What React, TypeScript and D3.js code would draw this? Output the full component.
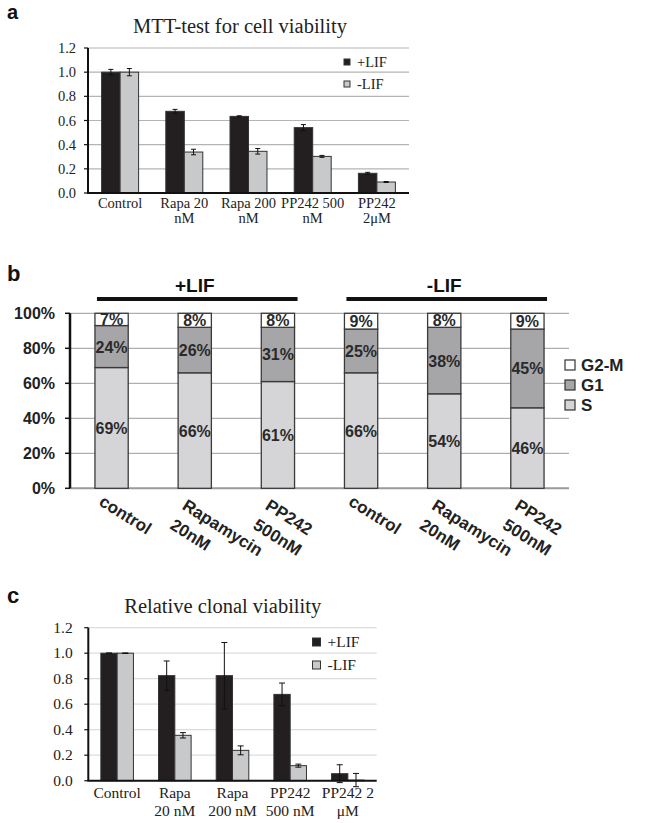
import React from 'react';
import * as d3 from 'd3';

// panel a: MTT-test for cell viability
const mttLabels = ['Control', 'Rapa 20|nM', 'Rapa 200|nM', 'PP242 500|nM', 'PP242|2μM'];
const mttPlus = [1.0, 0.676, 0.634, 0.541, 0.163];
const mttPlusErr = [0.023, 0.016, 0.005, 0.025, 0.008];
const mttMinus = [1.0, 0.339, 0.345, 0.303, 0.091];
const mttMinusErr = [0.03, 0.023, 0.023, 0.008, 0.004];

// panel b: cell cycle distribution (%)
const cycleLabels = ['control', 'Rapamycin|20nM', 'PP242|500nM', 'control', 'Rapamycin|20nM', 'PP242|500nM'];
const cycleGroups = ['+LIF', '-LIF'];
const phaseS = [69, 66, 61, 66, 54, 46];
const phaseG1 = [24, 26, 31, 25, 38, 45];
const phaseG2M = [7, 8, 8, 9, 8, 9];
const pctTicks = [0, 20, 40, 60, 80, 100];

// panel c: relative clonal viability
const clonalLabels = ['Control', 'Rapa|20 nM', 'Rapa|200 nM', 'PP242|500 nM', 'PP242 2|μM'];
const clonalPlus = [1.0, 0.824, 0.824, 0.677, 0.055];
const clonalPlusErr = [0.002, 0.115, 0.26, 0.089, 0.07];
const clonalMinus = [1.0, 0.356, 0.238, 0.118, 0.005];
const clonalMinusErr = [0.002, 0.021, 0.035, 0.012, 0.052];

const viabTicks = [0, 0.2, 0.4, 0.6, 0.8, 1.0, 1.2];
const seriesNames = ['+LIF', '-LIF'];

const SERIF = "'Liberation Serif', 'Times New Roman', serif";
const SANS = "'Liberation Sans', Arial, sans-serif";
const BLACK = '#231f20';
const GREY = '#c8c9cb';

type ViabProps = {
  title: string;
  titleX: number;
  titleY: number;
  labels: string[];
  plus: number[];
  plusErr: number[];
  minus: number[];
  minusErr: number[];
  left: number;
  right: number;
  top: number;
  bottom: number;
  pad: number;
  fs: number;
  tickX: number;
  labelY: number;
  lineGap: number;
  legendX: number;
  legendY: number;
  legendGap: number;
  sq: number;
  grid: string;
  cap: number;
};

const ViabilityPanel = (p: ViabProps) => {
  const x = d3.scaleBand().domain(p.labels).range([p.left, p.right]).paddingInner(p.pad).paddingOuter(p.pad / 2);
  const sub = d3.scaleBand().domain(seriesNames).range([0, x.bandwidth()]);
  const y = d3.scaleLinear().domain([0, 1.2]).range([p.bottom, p.top]);
  const series = [
    { name: '+LIF', vals: p.plus, errs: p.plusErr, fill: BLACK },
    { name: '-LIF', vals: p.minus, errs: p.minusErr, fill: GREY },
  ];

  return (
    <g>
      <text x={p.titleX} y={p.titleY} textAnchor="middle" fontFamily={SERIF} fontSize={20.5} fill="#222">
        {p.title}
      </text>
      {viabTicks.filter((t) => t > 0).map((t) => (
        <line key={t} x1={p.left} x2={p.right} y1={y(t)} y2={y(t)} stroke={p.grid} strokeWidth={1.2} />
      ))}
      {viabTicks.map((t) => (
        <g key={'t' + t}>
          <line x1={p.left - 4} x2={p.left} y1={y(t)} y2={y(t)} stroke="#111" strokeWidth={1.2} />
          <text x={p.tickX} y={y(t) + 5} textAnchor="end" fontFamily={SERIF} fontSize={p.fs} fill="#222">
            {t.toFixed(1)}
          </text>
        </g>
      ))}
      {series.map((s) =>
        p.labels.map((c, i) => {
          const bx = (x(c) as number) + (sub(s.name) as number);
          const cx = bx + sub.bandwidth() / 2;
          const v = s.vals[i];
          const e = s.errs[i];
          return (
            <g key={s.name + c}>
              <rect
                x={bx}
                y={y(v)}
                width={sub.bandwidth()}
                height={y(0) - y(v)}
                fill={s.fill}
                stroke="#333"
                strokeWidth={1}
              />
              <line x1={cx} x2={cx} y1={y(v - e)} y2={y(v + e)} stroke="#111" strokeWidth={1} />
              <line x1={cx - p.cap} x2={cx + p.cap} y1={y(v + e)} y2={y(v + e)} stroke="#111" strokeWidth={1} />
              <line x1={cx - p.cap} x2={cx + p.cap} y1={y(v - e)} y2={y(v - e)} stroke="#111" strokeWidth={1} />
            </g>
          );
        })
      )}
      <line x1={p.left} x2={p.left} y1={p.top} y2={p.bottom} stroke="#111" strokeWidth={2} />
      <line x1={p.left - 1} x2={p.right} y1={p.bottom} y2={p.bottom} stroke="#111" strokeWidth={2} />
      {p.labels.map((c) => (
        <text key={'l' + c} textAnchor="middle" fontFamily={SERIF} fontSize={p.fs} fill="#222">
          {c.split('|').map((ln, k) => (
            <tspan key={k} x={(x(c) as number) + x.bandwidth() / 2} y={p.labelY + k * p.lineGap}>
              {ln}
            </tspan>
          ))}
        </text>
      ))}
      {series.map((s, k) => {
        const cy = p.legendY + k * p.legendGap;
        return (
          <g key={'lg' + s.name}>
            <rect x={p.legendX} y={cy - p.sq / 2} width={p.sq} height={p.sq} fill={s.fill} stroke="#333" strokeWidth={1} />
            <text x={p.legendX + p.sq + 7} y={cy + 5} fontFamily={SERIF} fontSize={p.fs} fill="#222">
              {s.name}
            </text>
          </g>
        );
      })}
    </g>
  );
};

const CyclePanel = () => {
  const left = 70;
  const right = 569;
  const top = 313.3;
  const bottom = 488.3;
  const idx = cycleLabels.map((_, i) => i);
  const x = d3.scaleBand<number>().domain(idx).range([left, right]).paddingInner(0.6).paddingOuter(0.3);
  const y = d3.scaleLinear().domain([0, 100]).range([bottom, top]);
  const rows = idx.map((i) => ({ S: phaseS[i], G1: phaseG1[i], G2M: phaseG2M[i] }));
  const stack = d3.stack<any>().keys(['S', 'G1', 'G2M'])(rows);
  const fills: Record<string, string> = { S: '#d5d5d7', G1: '#a6a6a8', G2M: '#ffffff' };
  const legend = [
    { name: 'G2-M', key: 'G2M' },
    { name: 'G1', key: 'G1' },
    { name: 'S', key: 'S' },
  ];
  const bw = x.bandwidth();

  return (
    <g fontFamily={SANS} fontWeight="bold">
      {cycleGroups.map((g, gi) => {
        const x0 = x(gi * 3) as number;
        const x1 = (x(gi * 3 + 2) as number) + bw;
        return (
          <g key={g}>
            <text x={(x0 + x1) / 2} y={291.5} textAnchor="middle" fontSize={19} fill="#111">
              {g}
            </text>
            <line x1={x0 + 2} x2={x1 + 3} y1={299} y2={299} stroke="#111" strokeWidth={4} />
          </g>
        );
      })}
      {pctTicks.map((t) => (
        <g key={t}>
          <line x1={left} x2={right} y1={y(t)} y2={y(t)} stroke="#9a9a9a" strokeWidth={t === 0 ? 2 : 1} />
          <line x1={left - 5} x2={left} y1={y(t)} y2={y(t)} stroke="#111" strokeWidth={1.5} />
          <text x={55} y={y(t) + 6} textAnchor="end" fontSize={16} fill="#222">
            {t + '%'}
          </text>
        </g>
      ))}
      {stack.map((layer) =>
        layer.map((d, i) => (
          <rect
            key={layer.key + i}
            x={x(i)}
            y={y(d[1])}
            width={bw}
            height={y(d[0]) - y(d[1])}
            fill={fills[layer.key]}
            stroke="#3a3a3a"
            strokeWidth={1.3}
          />
        ))
      )}
      {stack.map((layer) =>
        layer.map((d, i) => (
          <text
            key={'v' + layer.key + i}
            x={(x(i) as number) + bw / 2}
            y={y((d[0] + d[1]) / 2) + 6}
            textAnchor="middle"
            fontSize={16}
            fill="#2a2a2a"
          >
            {d[1] - d[0] + '%'}
          </text>
        ))
      )}
      <line x1={left} x2={left} y1={top} y2={bottom} stroke="#111" strokeWidth={2.5} />
      {cycleLabels.map((c, i) => {
        const lines = c.split('|');
        const cx = (x(i) as number) + bw / 2;
        return (
          <g key={'xl' + i} transform={`translate(${cx - 7},${lines.length > 1 ? 498 : 494}) rotate(32)`}>
            {lines.map((ln, k) => (
              <text key={k} x={0} y={12.5 + k * 23} fontSize={17} fill="#222">
                {ln}
              </text>
            ))}
          </g>
        );
      })}
      {legend.map((l, k) => {
        const cy = 365 + k * 20;
        return (
          <g key={l.key}>
            <rect x={565} y={cy - 5} width={10} height={10} fill={fills[l.key]} stroke="#333" strokeWidth={1.2} />
            <text x={581} y={cy + 6} fontSize={17} fill="#222">
              {l.name}
            </text>
          </g>
        );
      })}
    </g>
  );
};

const App = () => {
  return (
    <svg width={647} height={823} style={{ position: 'absolute', left: 0, top: 0, background: '#fff' }}>
      <rect width={647} height={823} fill="#fff" />
      <text x={7} y={19} fontFamily={SANS} fontWeight="bold" fontSize={20} fill="#111">a</text>
      <text x={7} y={281} fontFamily={SANS} fontWeight="bold" fontSize={22} fill="#111">b</text>
      <text x={7} y={603} fontFamily={SANS} fontWeight="bold" fontSize={22} fill="#111">c</text>

      <ViabilityPanel
        title="MTT-test for cell viability"
        titleX={240}
        titleY={33}
        labels={mttLabels}
        plus={mttPlus}
        plusErr={mttPlusErr}
        minus={mttMinus}
        minusErr={mttMinusErr}
        left={88}
        right={409}
        top={48}
        bottom={193}
        pad={0.424}
        fs={14.5}
        tickX={76}
        labelY={208}
        lineGap={15}
        legendX={344}
        legendY={62}
        legendGap={22}
        sq={6}
        grid="#b4b4b4"
        cap={2.5}
      />

      <CyclePanel />

      <ViabilityPanel
        title="Relative clonal viability"
        titleX={222.7}
        titleY={613}
        labels={clonalLabels}
        plus={clonalPlus}
        plusErr={clonalPlusErr}
        minus={clonalMinus}
        minusErr={clonalMinusErr}
        left={88.3}
        right={376.7}
        top={627.7}
        bottom={780.7}
        pad={0.435}
        fs={15.5}
        tickX={72.7}
        labelY={798}
        lineGap={18}
        legendX={312.5}
        legendY={642}
        legendGap={23}
        sq={8}
        grid="#dcdcdc"
        cap={3}
      />
    </svg>
  );
};

export default App;
